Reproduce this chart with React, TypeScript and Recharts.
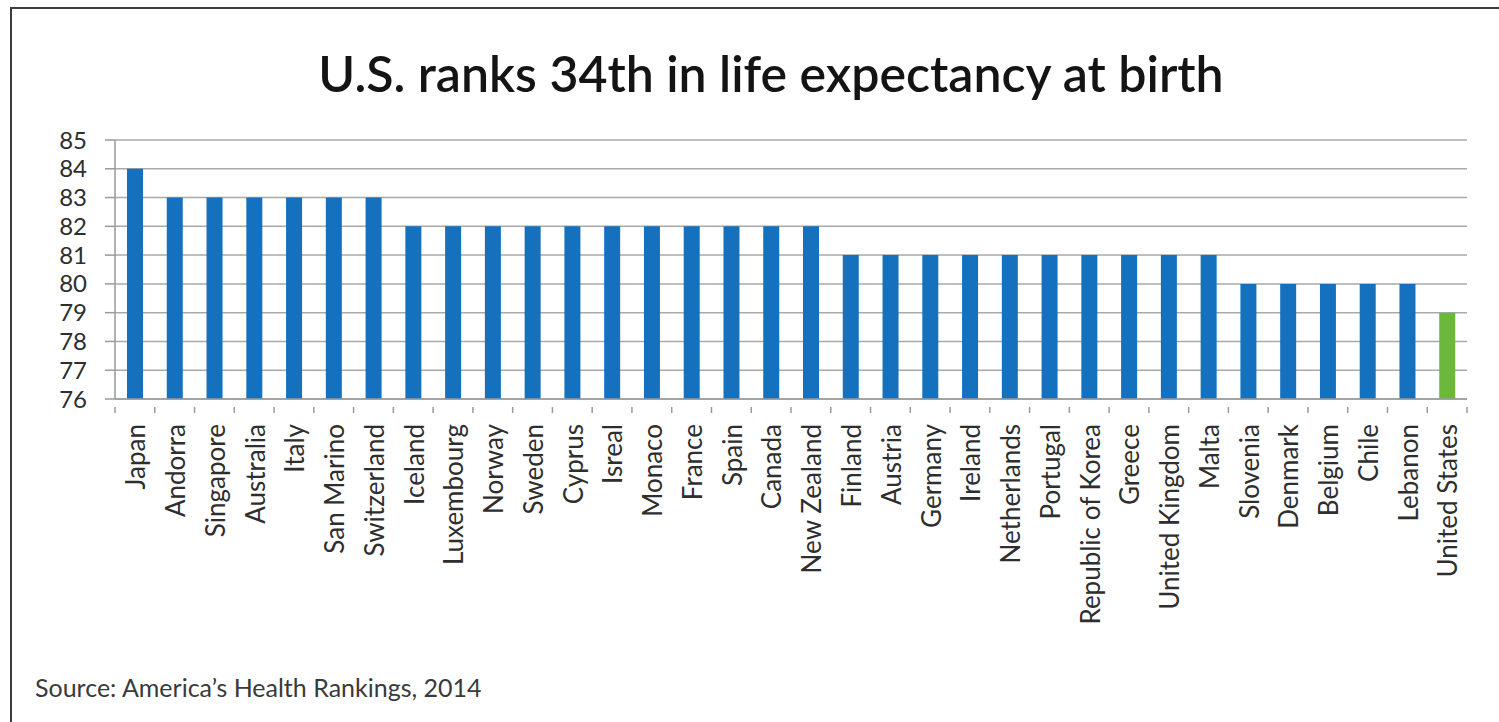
import React from 'react';
import { BarChart, Bar, Cell, XAxis, YAxis, CartesianGrid } from 'recharts';

const countries = [
  'Japan', 'Andorra', 'Singapore', 'Australia', 'Italy', 'San Marino', 'Switzerland',
  'Iceland', 'Luxembourg', 'Norway', 'Sweden', 'Cyprus', 'Isreal', 'Monaco', 'France',
  'Spain', 'Canada', 'New Zealand', 'Finland', 'Austria', 'Germany', 'Ireland',
  'Netherlands', 'Portugal', 'Republic of Korea', 'Greece', 'United Kingdom', 'Malta',
  'Slovenia', 'Denmark', 'Belgium', 'Chile', 'Lebanon', 'United States',
];

const lifeExpectancy = [
  84, 83, 83, 83, 83, 83, 83,
  82, 82, 82, 82, 82, 82, 82, 82,
  82, 82, 82, 81, 81, 81, 81,
  81, 81, 81, 81, 81, 81,
  80, 80, 80, 80, 80, 79,
];

const yTicks = [76, 77, 78, 79, 80, 81, 82, 83, 84, 85];

const data = countries.map((name, i) => ({ name, value: lifeExpectancy[i] }));

const FONT = 'Lato, "Open Sans", sans-serif';
const BLUE = '#1570be';
const GREEN = '#6bb83a';

// chart box
const W = 1499;
const H = 722;
const MARGIN = { top: 140, right: 32, bottom: 20, left: 55 };
const Y_AXIS_W = 60;
const X_AXIS_H = H - 399 - MARGIN.bottom;
const PLOT_W = W - MARGIN.left - Y_AXIS_W - MARGIN.right;
const BAND = PLOT_W / countries.length;

// Excel-style axis: tick marks sit between categories, labels rotated
const CountryTick = (props: any) => {
  const { x, y, payload, index } = props;
  const last = index === countries.length - 1;
  return (
    <g>
      <line x1={x - BAND / 2} x2={x - BAND / 2} y1={y} y2={y + 6} stroke="#9a9a9a" strokeWidth={1.5} />
      {last && (
        <line x1={x + BAND / 2} x2={x + BAND / 2} y1={y} y2={y + 6} stroke="#9a9a9a" strokeWidth={1.5} />
      )}
      <text
        x={0}
        y={0}
        transform={`translate(${x + 1},${y + 17}) rotate(-90)`}
        textAnchor="end"
        dy="0.36em"
        fill="#2e2e2e"
        fontFamily={FONT}
        fontSize={26}
      >
        {payload.value}
      </text>
    </g>
  );
};

export default function App() {
  return (
    <div style={{ position: 'absolute', left: 0, top: 0, width: W, height: H, background: '#fff', overflow: 'hidden' }}>
      <div
        style={{
          position: 'absolute',
          left: 10,
          top: 7,
          width: W,
          height: H,
          border: '2px solid #3d3d3d',
          boxSizing: 'border-box',
        }}
      />
      <div
        style={{
          position: 'absolute',
          left: 0,
          top: 43,
          width: 1542,
          textAlign: 'center',
          fontFamily: FONT,
          fontSize: 50,
          fontWeight: 600,
          color: '#141414',
          lineHeight: '60px',
        }}
      >
        U.S. ranks 34th in life expectancy at birth
      </div>
      <BarChart width={W} height={H} data={data} margin={MARGIN} style={{ position: 'absolute', left: 0, top: 0 }}>
        <CartesianGrid vertical={false} stroke="#a9a9a9" strokeWidth={1.5} />
        <XAxis
          dataKey="name"
          interval={0}
          height={X_AXIS_H}
          tickLine={false}
          axisLine={{ stroke: '#9a9a9a', strokeWidth: 1.5 }}
          tick={<CountryTick />}
        />
        <YAxis
          domain={[76, 85]}
          ticks={yTicks}
          interval={0}
          width={Y_AXIS_W}
          tickSize={10}
          tickMargin={18}
          tickLine={{ stroke: '#9a9a9a', strokeWidth: 1.5 }}
          axisLine={{ stroke: '#9a9a9a', strokeWidth: 1.5 }}
          tick={{ fill: '#2e2e2e', fontFamily: FONT, fontSize: 24 }}
          allowDataOverflow
        />
        <Bar dataKey="value" barSize={16} isAnimationActive={false}>
          {data.map((d) => (
            <Cell key={d.name} fill={d.name === 'United States' ? GREEN : BLUE} />
          ))}
        </Bar>
      </BarChart>
      <div
        style={{
          position: 'absolute',
          left: 35,
          top: 672,
          fontFamily: FONT,
          fontSize: 25,
          color: '#3a3a3a',
        }}
      >
        Source: America’s Health Rankings, 2014
      </div>
    </div>
  );
}
